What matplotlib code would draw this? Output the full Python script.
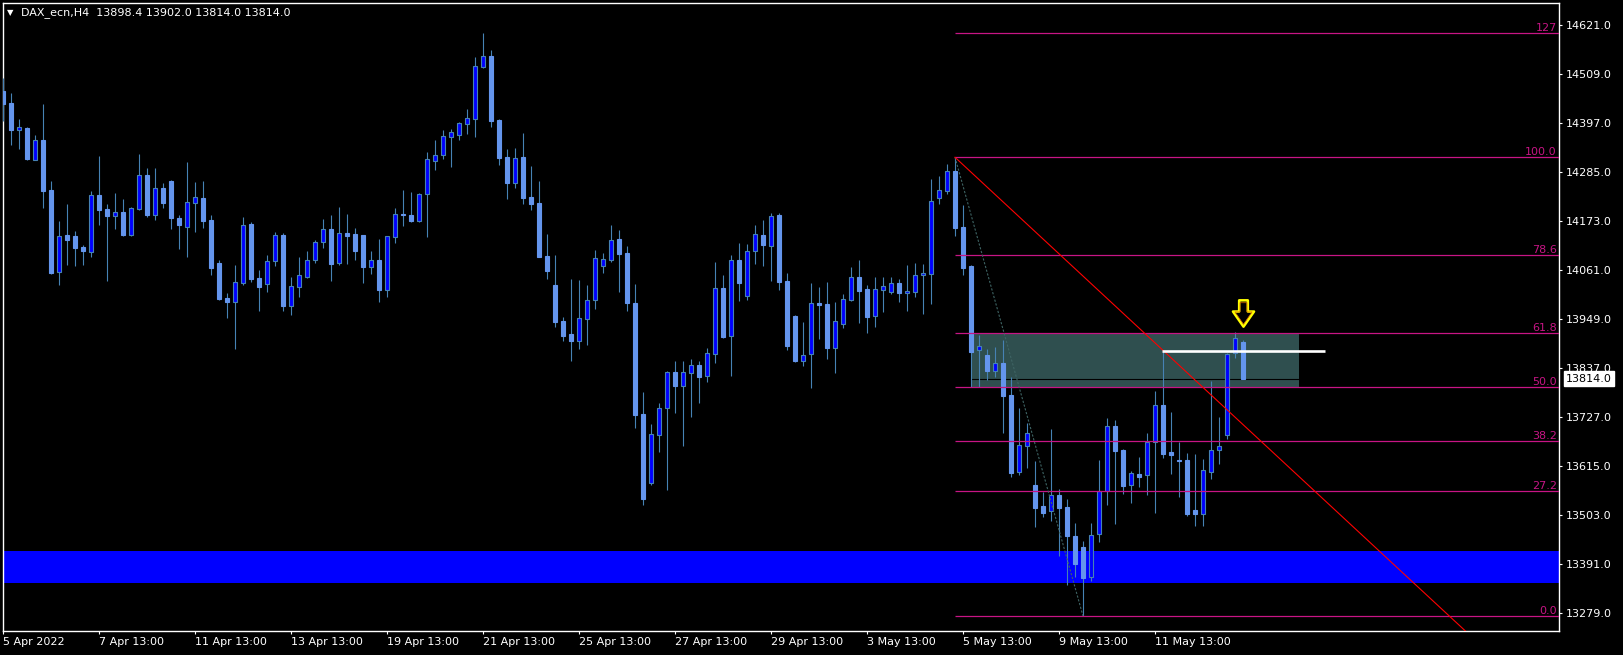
import matplotlib
matplotlib.use("Agg")
import matplotlib.pyplot as plt
import numpy as np
from matplotlib.path import Path
from matplotlib.patches import Rectangle

# ---------------- data (H4 bars, index 0..155) ----------------
opens = [14471.1, 14443.6, 14382.7, 14386.5, 14314.2, 14359.1, 14244.8, 14058.2, 14142.0, 14139.7,
         14114.6, 14103.2, 14233.4, 14201.4, 14185.4, 14194.6, 14142.0, 14201.4, 14279.1, 14187.7,
         14249.4, 14265.4, 14180.9, 14161.0, 14215.1, 14226.6, 14176.3, 14078.0, 13998.0, 13988.9,
         14032.3, 14167.1, 14043.7, 14030.0, 14082.6, 14142.0, 13979.8, 14023.2, 14046.0, 14084.9,
         14126.0, 14155.7, 14078.0, 14146.6, 14144.3, 14142.0, 14068.9, 14084.9, 14016.3, 14137.4,
         14190.0, 14187.7, 14174.0, 14235.7, 14311.1, 14324.8, 14365.9, 14370.5, 14395.7, 14407.8,
         14526.7, 14551.0, 14404.8, 14320.2, 14261.6, 14320.2, 14228.8, 14215.1, 14094.0, 14027.7,
         13945.5, 13915.8, 13900.5, 13950.8, 13994.2, 14071.9, 14085.6, 14132.9, 14100.9, 13986.6,
         13733.0, 13576.1, 13685.8, 13747.4, 13829.0, 13797.7, 13825.9, 13844.2, 13819.1, 13869.3,
         14020.9, 13910.4, 14084.9, 14003.4, 14104.7, 14142.0, 14117.6, 14187.7, 14036.9, 13956.9,
         13853.3, 13869.3, 13985.9, 13984.3, 13883.0, 13937.9, 13992.7, 14045.3, 14017.8, 13956.1,
         14015.6, 14012.5, 14031.6, 14008.7, 14012.5, 14049.8, 14053.7, 14227.3, 14243.3, 14288.3,
         14160.3, 14071.2, 13878.5, 13867.8, 13832.0, 13849.5, 13776.4, 13601.2, 13660.6, 13570.7,
         13523.5, 13512.1, 13547.9, 13520.5, 13454.2, 13429.1, 13360.5, 13459.5, 13557.0, 13705.6,
         13650.7, 13571.5, 13596.6, 13592.8, 13669.8, 13752.8, 13646.1, 13627.9, 13627.9, 13514.4,
         13505.2, 13601.2, 13650.0, 13685.8, 13871.6, 13898.4]
highs = [14500.0, 14466.5, 14407.1, 14388.8, 14370.5, 14441.4, 14265.4, 14174.0, 14212.8, 14151.1,
         14119.2, 14242.6, 14322.5, 14212.8, 14238.0, 14224.3, 14206.0, 14327.1, 14295.1, 14295.1,
         14260.8, 14267.0, 14187.7, 14308.8, 14263.1, 14265.4, 14187.7, 14084.9, 14009.5, 14073.5,
         14183.1, 14171.7, 14062.0, 14096.3, 14148.9, 14146.6, 14046.0, 14091.7, 14105.4, 14130.6,
         14178.6, 14187.7, 14206.0, 14190.0, 14158.0, 14143.0, 14105.4, 14132.9, 14139.7, 14203.7,
         14244.8, 14240.3, 14238.0, 14331.7, 14359.1, 14381.9, 14384.2, 14400.2, 14429.9, 14548.8,
         14603.6, 14564.7, 14407.1, 14338.5, 14340.8, 14375.1, 14299.7, 14265.4, 14144.3, 14096.3,
         13954.6, 14041.5, 14039.2, 14027.7, 14107.7, 14100.9, 14164.9, 14153.4, 14116.9, 14030.0,
         13783.3, 13710.2, 13758.1, 13831.2, 13854.1, 13854.1, 13858.7, 13854.1, 13883.8, 14080.3,
         14050.6, 14096.3, 14123.7, 14121.4, 14164.9, 14176.3, 14192.3, 14192.3, 14055.2, 13959.2,
         13943.2, 14032.3, 14023.2, 14034.6, 13988.9, 14007.2, 14068.9, 14084.9, 14027.7, 14046.0,
         14046.0, 14046.0, 14041.5, 14073.5, 14078.0, 14075.7, 14270.0, 14276.8, 14304.3, 14319.5,
         14210.6, 14073.5, 13913.5, 13881.5, 13886.1, 13902.1, 13817.5, 13746.7, 13712.4, 13625.6,
         13554.8, 13698.7, 13561.6, 13538.8, 13483.9, 13442.8, 13483.9, 13627.9, 13723.8, 13719.3,
         13653.0, 13602.7, 13634.7, 13689.6, 13785.5, 13876.9, 13737.6, 13669.0, 13643.9, 13641.6,
         13630.2, 13808.4, 13726.1, 13872.4, 13920.4, 13902.0]
lows = [14403.3, 14347.7, 14338.5, 14313.4, 14313.4, 14204.5, 14052.9, 14027.8, 14073.5, 14071.2,
        14073.5, 14091.7, 14164.9, 14036.9, 14155.7, 14139.7, 14140.5, 14199.1, 14183.1, 14176.3,
        14203.7, 14155.7, 14110.0, 14091.7, 14148.9, 14158.0, 14050.6, 13993.5, 13952.3, 13881.5,
        14027.8, 14034.6, 13968.3, 14011.8, 14071.2, 13968.3, 13959.2, 14000.3, 14043.7, 14078.0,
        14112.3, 14036.9, 14073.5, 14075.7, 14084.9, 14032.3, 14052.9, 13988.9, 14000.3, 14123.7,
        14162.6, 14172.0, 14171.7, 14137.4, 14290.5, 14315.7, 14297.4, 14359.1, 14372.8, 14366.7,
        14524.4, 14388.8, 14302.0, 14224.3, 14249.4, 14212.8, 14199.1, 14091.0, 14041.5, 13931.8,
        13899.8, 13854.1, 13881.5, 13890.6, 13972.9, 14055.2, 14080.3, 14011.8, 13968.3, 13701.0,
        13525.1, 13570.8, 13646.2, 13559.3, 13736.0, 13660.6, 13726.9, 13758.9, 13806.9, 13849.5,
        13907.4, 13820.6, 13991.9, 13994.2, 14075.7, 14071.2, 14037.7, 14016.3, 13879.2, 13852.0,
        13843.4, 13793.2, 13904.4, 13858.7, 13827.4, 13930.3, 13991.0, 13940.9, 13918.1, 13932.5,
        13966.1, 14007.2, 13988.9, 13968.3, 14000.3, 13961.5, 13984.3, 14212.9, 14235.7, 14139.7,
        14050.6, 13794.7, 13794.7, 13810.7, 13817.5, 13689.6, 13589.0, 13593.6, 13609.6, 13474.8,
        13497.6, 13489.2, 13408.5, 13342.2, 13360.5, 13272.0, 13351.4, 13440.5, 13525.0, 13481.6,
        13550.9, 13530.4, 13566.9, 13548.7, 13507.5, 13633.2, 13596.6, 13544.1, 13500.7, 13477.8,
        13477.8, 13585.2, 13619.5, 13676.6, 13860.9, 13814.0]
closes = [14442.1, 14381.9, 14388.8, 14315.7, 14359.1, 14242.6, 14055.2, 14139.7, 14130.6, 14112.3,
          14105.4, 14233.4, 14199.1, 14185.4, 14194.6, 14142.0, 14203.7, 14279.1, 14187.7, 14249.4,
          14215.1, 14180.9, 14164.9, 14217.4, 14228.8, 14174.0, 14066.6, 13995.8, 13988.9, 14034.6,
          14164.9, 14041.5, 14023.2, 14082.6, 14142.0, 13979.8, 14025.5, 14050.6, 14084.9, 14126.0,
          14155.7, 14075.7, 14146.6, 14139.7, 14105.4, 14068.9, 14084.9, 14016.3, 14139.7, 14190.0,
          14187.7, 14174.0, 14235.7, 14315.7, 14324.8, 14368.2, 14377.4, 14397.9, 14409.4, 14527.4,
          14550.3, 14403.3, 14318.7, 14260.8, 14318.0, 14227.3, 14213.6, 14092.5, 14060.5, 13943.2,
          13911.2, 13899.8, 13952.3, 13993.5, 14089.4, 14087.2, 14130.6, 14098.6, 13986.6, 13730.7,
          13538.8, 13687.3, 13746.7, 13829.0, 13797.7, 13829.0, 13844.2, 13818.3, 13871.6, 14020.9,
          13908.9, 14084.9, 14033.1, 14104.7, 14143.5, 14119.9, 14184.7, 14035.4, 13889.1, 13854.1,
          13867.0, 13985.9, 13982.8, 13884.5, 13944.7, 13995.0, 14045.3, 14014.8, 13955.4, 14017.8,
          14024.7, 14031.6, 14010.2, 14013.3, 14049.8, 14054.4, 14219.7, 14244.1, 14288.3, 14158.0,
          14066.6, 13874.7, 13887.6, 13831.2, 13848.8, 13774.1, 13598.2, 13662.1, 13689.6, 13518.2,
          13506.8, 13547.9, 13518.2, 13454.2, 13390.2, 13358.2, 13456.5, 13557.0, 13705.6, 13649.2,
          13569.2, 13598.2, 13589.8, 13669.8, 13752.8, 13642.3, 13639.3, 13626.3, 13505.2, 13505.2,
          13604.3, 13650.0, 13659.9, 13869.3, 13905.9, 13814.0]

date_ticks = [0, 12, 24, 36, 48, 60, 72, 84, 96, 108, 120, 132, 144]
date_labels = ["5 Apr 2022", "7 Apr 13:00", "11 Apr 13:00", "13 Apr 13:00", "19 Apr 13:00",
               "21 Apr 13:00", "25 Apr 13:00", "27 Apr 13:00", "29 Apr 13:00", "3 May 13:00",
               "5 May 13:00", "9 May 13:00", "11 May 13:00"]
price_ticks = [13279, 13391, 13503, 13615, 13727, 13837, 13949, 14061, 14173, 14285, 14397, 14509, 14621]

fib_high = 14319.5
fib_low = 13271.5
fib_high_bar = 119
fib_low_bar = 135
fib_levels = [0.0, 27.2, 38.2, 50.0, 61.8, 78.6, 100.0, 127.0]
fib_texts = ["0.0", "27.2", "38.2", "50.0", "61.8", "78.6", "100.0", "127"]

support_zone = [13347.5, 13420.6]
box_bars = [121, 162]
box_prices = [13795.0, 13918.5]
trend_bars = [119, 162.1]
trend_prices = [14319.5, 13588.4]
level_bars = [144.9, 165.2]
level_price = 13876.9
bid_price = 13814.0
arrow_bar = [155]
arrow_price = [13964]
header = "DAX_ecn,H4  13898.4 13902.0 13814.0 13814.0"

# ---------------- figure ----------------
W, H = 1623, 655
fig = plt.figure(figsize=(W / 100, H / 100), dpi=100, facecolor="black")
ax = fig.add_axes([2.5 / W, 24 / H, 1556.5 / W, 628.5 / H])
ax.set_facecolor("black")
XMAX = 194.5
ax.set_xlim(-0.0625, XMAX)
ax.set_ylim(13237.2, 14673.1)

o = np.array(opens); h = np.array(highs); l = np.array(lows); c = np.array(closes)
x = np.arange(len(o))
bull = c >= o
bear = ~bull

# background objects
ax.axhspan(support_zone[0], support_zone[1], color="#0000FF", lw=0, zorder=1)
ax.add_patch(Rectangle((box_bars[0], box_prices[0]), box_bars[1] - box_bars[0],
                       box_prices[1] - box_prices[0], facecolor="#2F4F4F", edgecolor="none", zorder=1))
ax.axhline(bid_price, color="black", lw=0.8, zorder=1.5)

# candles
ax.vlines(x, l, h, color="#4682B4", lw=0.8, zorder=3)
ax.bar(x[bull], (c - o)[bull], bottom=o[bull], width=0.5, color="#0000FF",
       edgecolor="#4682B4", linewidth=0.8, zorder=4)
ax.bar(x[bear], (o - c)[bear], bottom=c[bear], width=0.5, color="#6495ED",
       edgecolor="#6495ED", linewidth=0.8, zorder=4)

# fibonacci
rng = fib_high - fib_low
for lev, txt in zip(fib_levels, fib_texts):
    p = fib_low + lev / 100.0 * rng
    ax.hlines(p, fib_high_bar, XMAX, color="#C71585", lw=0.9, zorder=5)
    ax.annotate(txt, xy=(1.0, p), xycoords=("axes fraction", "data"), xytext=(-1.5, 0),
                textcoords="offset points", ha="right", va="bottom", color="#C71585",
                fontsize=8, zorder=6)
ax.plot([fib_high_bar, fib_low_bar], [fib_high, fib_low], color="#3E6464", lw=0.8,
        ls=(0, (2, 1.5)), zorder=5)

# red trend line (ray)
slope = (trend_prices[1] - trend_prices[0]) / (trend_bars[1] - trend_bars[0])
ax.plot([trend_bars[0], XMAX], [trend_prices[0], trend_prices[0] + slope * (XMAX - trend_bars[0])],
        color="#FF0000", lw=0.8, zorder=6)

# white level line
ax.hlines(level_price, level_bars[0], level_bars[1], color="white", lw=1.9, zorder=7)

# arrow marker
verts = [(-0.33, 1.0), (0.33, 1.0), (0.33, 0.15), (0.8, 0.15), (0.0, -1.0), (-0.8, 0.15),
         (-0.33, 0.15), (-0.33, 1.0)]
codes = [Path.MOVETO] + [Path.LINETO] * 6 + [Path.CLOSEPOLY]
arrow_path = Path(verts, codes)
ax.plot(arrow_bar, arrow_price, marker=arrow_path, markersize=19, markerfacecolor="none",
        markeredgecolor="#FFFF00", markeredgewidth=1.8, ls="none", zorder=8)
ax.plot(arrow_bar, arrow_price, marker=arrow_path, markersize=15.5, markerfacecolor="none",
        markeredgecolor="#E07000", markeredgewidth=0.5, ls="none", zorder=8)

# axes styling
for s in ax.spines.values():
    s.set_color("white")
    s.set_linewidth(1.0)
ax.yaxis.tick_right()
ax.set_yticks(price_ticks)
ax.set_yticklabels([f"{v:.1f}" for v in price_ticks])
ax.tick_params(axis="y", colors="white", length=2.5, width=0.8, pad=2.5, labelsize=8)
ax.set_xticks(date_ticks)
ax.set_xticklabels(date_labels)
ax.tick_params(axis="x", colors="white", length=2.5, width=0.8, pad=2, labelsize=8)
for lab in ax.get_xticklabels():
    lab.set_ha("left")

# bid price label
ax.annotate(f"{bid_price:.1f}", xy=(1.0, bid_price), xycoords=("axes fraction", "data"),
            xytext=(5, 0), textcoords="offset points", ha="left", va="center",
            color="black", fontsize=8, zorder=20, annotation_clip=False,
            bbox=dict(boxstyle="square,pad=0.2", fc="white", ec="white"))

# header
fig.text(7 / W, 1 - 12.5 / H, "\u25BC", color="white", fontsize=6, ha="left", va="center")
fig.text(21 / W, 1 - 12.7 / H, header, color="white", fontsize=8, ha="left", va="center")

fig.savefig("out.png", dpi=100, facecolor="black")
